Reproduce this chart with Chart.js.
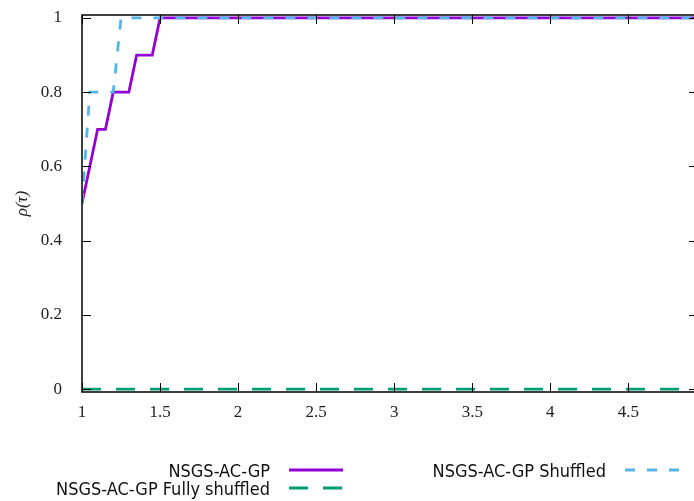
<!DOCTYPE html>
<html>
<head>
<meta charset="utf-8">
<script src="https://cdn.jsdelivr.net/npm/chart.js@4/dist/chart.umd.min.js"></script>
<style>
  html, body { margin: 0; padding: 0; background: #fff; overflow: hidden; }
  #wrap { position: relative; width: 694px; height: 501px; }
  #chart { position: absolute; left: 0; top: 0; }
  .key { position: absolute; font-family: 'DejaVu Sans Condensed', 'DejaVu Sans', sans-serif; font-stretch: condensed; font-size: 18px; color: #111; white-space: nowrap; }
  .key span { position: absolute; right: 0; top: 0; transform: translateY(-50%); }
</style>
</head>
<body>
<div id="wrap">
  <canvas id="chart" width="694" height="501"></canvas>
</div>
<script>
// performance profile data
const tauBase = [1, 1.1, 1.15, 1.2, 1.3, 1.35, 1.45, 1.5, 5];
const rhoBase = [0.5, 0.7, 0.7, 0.8, 0.8, 0.9, 0.9, 1, 1];

const tauShuffled = [1, 1.05, 1.2, 1.25, 5];
const rhoShuffled = [0.5, 0.8, 0.8, 1, 1];

const tauFully = [1, 5];
const rhoFully = [0, 0];

const xTicks = [1, 1.5, 2, 2.5, 3, 3.5, 4, 4.5];
const yTicks = [0, 0.2, 0.4, 0.6, 0.8, 1];

const labels = ['NSGS-AC-GP', 'NSGS-AC-GP Shuffled', 'NSGS-AC-GP Fully shuffled'];
const colors = ['#9400D3', '#56B4E9', '#009E73'];

const toPoints = (xs, ys) => xs.map((x, i) => ({ x: x, y: ys[i] }));

const serif = "'Liberation Serif', 'DejaVu Serif', serif";

// gnuplot style frame with inward ticks
const framePlugin = {
  id: 'frame',
  afterDatasetsDraw(chart) {
    const { ctx, chartArea: a, scales } = chart;
    ctx.save();
    ctx.strokeStyle = '#000';
    ctx.lineWidth = 1;
    ctx.beginPath();
    xTicks.forEach(v => {
      const px = Math.round(scales.x.getPixelForValue(v)) + 0.5;
      ctx.moveTo(px, a.bottom); ctx.lineTo(px, a.bottom - 9);
      ctx.moveTo(px, a.top); ctx.lineTo(px, a.top + 9);
    });
    yTicks.forEach(v => {
      const py = Math.round(scales.y.getPixelForValue(v)) + 0.5;
      ctx.moveTo(a.left, py); ctx.lineTo(a.left + 9, py);
      ctx.moveTo(a.right, py); ctx.lineTo(a.right - 5, py);
    });
    ctx.stroke();
    ctx.lineWidth = 1.5;
    ctx.beginPath();
    ctx.moveTo(a.right + 2, a.top);
    ctx.lineTo(a.left, a.top);
    ctx.lineTo(a.left, a.bottom);
    ctx.lineTo(a.right + 2, a.bottom);
    ctx.stroke();
    ctx.restore();
  }
};

const chart = new Chart(document.getElementById('chart').getContext('2d'), {
  type: 'line',
  data: {
    datasets: [{
      label: labels[0],
      data: toPoints(tauBase, rhoBase),
      borderColor: colors[0],
      borderWidth: 2.8,
      order: 2
    }, {
      label: labels[1],
      data: toPoints(tauShuffled, rhoShuffled),
      borderColor: colors[1],
      borderWidth: 2.8,
      borderDash: [10, 12],
      order: 1
    }, {
      label: labels[2],
      data: toPoints(tauFully, rhoFully),
      borderColor: colors[2],
      borderWidth: 2.8,
      borderDash: [19, 15],
      order: 0
    }]
  },
  options: {
    responsive: false,
    animation: false,
    devicePixelRatio: 1,
    layout: { padding: { top: 15, right: 0, left: 0, bottom: 0 } },
    elements: {
      point: { radius: 0 },
      line: { tension: 0, borderCapStyle: 'butt', fill: false }
    },
    plugins: {
      legend: { display: false },
      tooltip: { enabled: false }
    },
    scales: {
      x: {
        type: 'linear',
        min: 1,
        max: 4.92,
        afterBuildTicks: s => { s.ticks = xTicks.map(v => ({ value: v })); },
        afterFit: s => { s.height = 109; s.paddingLeft = 0; s.paddingRight = 0; },
        grid: { display: false },
        border: { display: false },
        ticks: {
          autoSkip: false,
          maxRotation: 0,
          padding: 2,
          color: '#222',
          font: { family: serif, size: 17 },
          callback: v => String(v)
        }
      },
      y: {
        min: -0.008,
        max: 1.008,
        afterBuildTicks: s => { s.ticks = yTicks.map(v => ({ value: v })); },
        afterFit: s => { s.width = 82; s.paddingTop = 0; s.paddingBottom = 0; },
        grid: { display: false },
        border: { display: false },
        ticks: {
          autoSkip: false,
          padding: 12,
          color: '#222',
          font: { family: serif, size: 17 },
          callback: v => String(v)
        },
        title: {
          display: true,
          text: 'ρ(τ)',
          color: '#222',
          font: { family: serif, size: 17, style: 'italic' },
          padding: { top: 12, bottom: 0 }
        }
      }
    }
  },
  plugins: [framePlugin]
});

// legend laid out like gnuplot's key: text right-aligned, sample on the right
const keySlots = [
  { right: 270, y: 470, x1: 289 },
  { right: 606, y: 470, x1: 625 },
  { right: 270, y: 488, x1: 289 }
];
const wrap = document.getElementById('wrap');
const svgNS = 'http://www.w3.org/2000/svg';
const svg = document.createElementNS(svgNS, 'svg');
svg.setAttribute('width', '694');
svg.setAttribute('height', '501');
svg.style.position = 'absolute';
svg.style.left = '0';
svg.style.top = '0';
wrap.appendChild(svg);

chart.data.datasets.forEach((ds, i) => {
  const slot = keySlots[i];
  const div = document.createElement('div');
  div.className = 'key';
  div.style.left = '0px';
  div.style.top = slot.y + 'px';
  div.style.width = slot.right + 'px';
  const span = document.createElement('span');
  span.textContent = ds.label;
  div.appendChild(span);
  wrap.appendChild(div);

  const line = document.createElementNS(svgNS, 'line');
  line.setAttribute('x1', slot.x1);
  line.setAttribute('x2', slot.x1 + 54);
  line.setAttribute('y1', slot.y);
  line.setAttribute('y2', slot.y);
  line.setAttribute('stroke', ds.borderColor);
  line.setAttribute('stroke-width', ds.borderWidth);
  if (ds.borderDash) line.setAttribute('stroke-dasharray', ds.borderDash.join(' '));
  svg.appendChild(line);
});
</script>
</body>
</html>
